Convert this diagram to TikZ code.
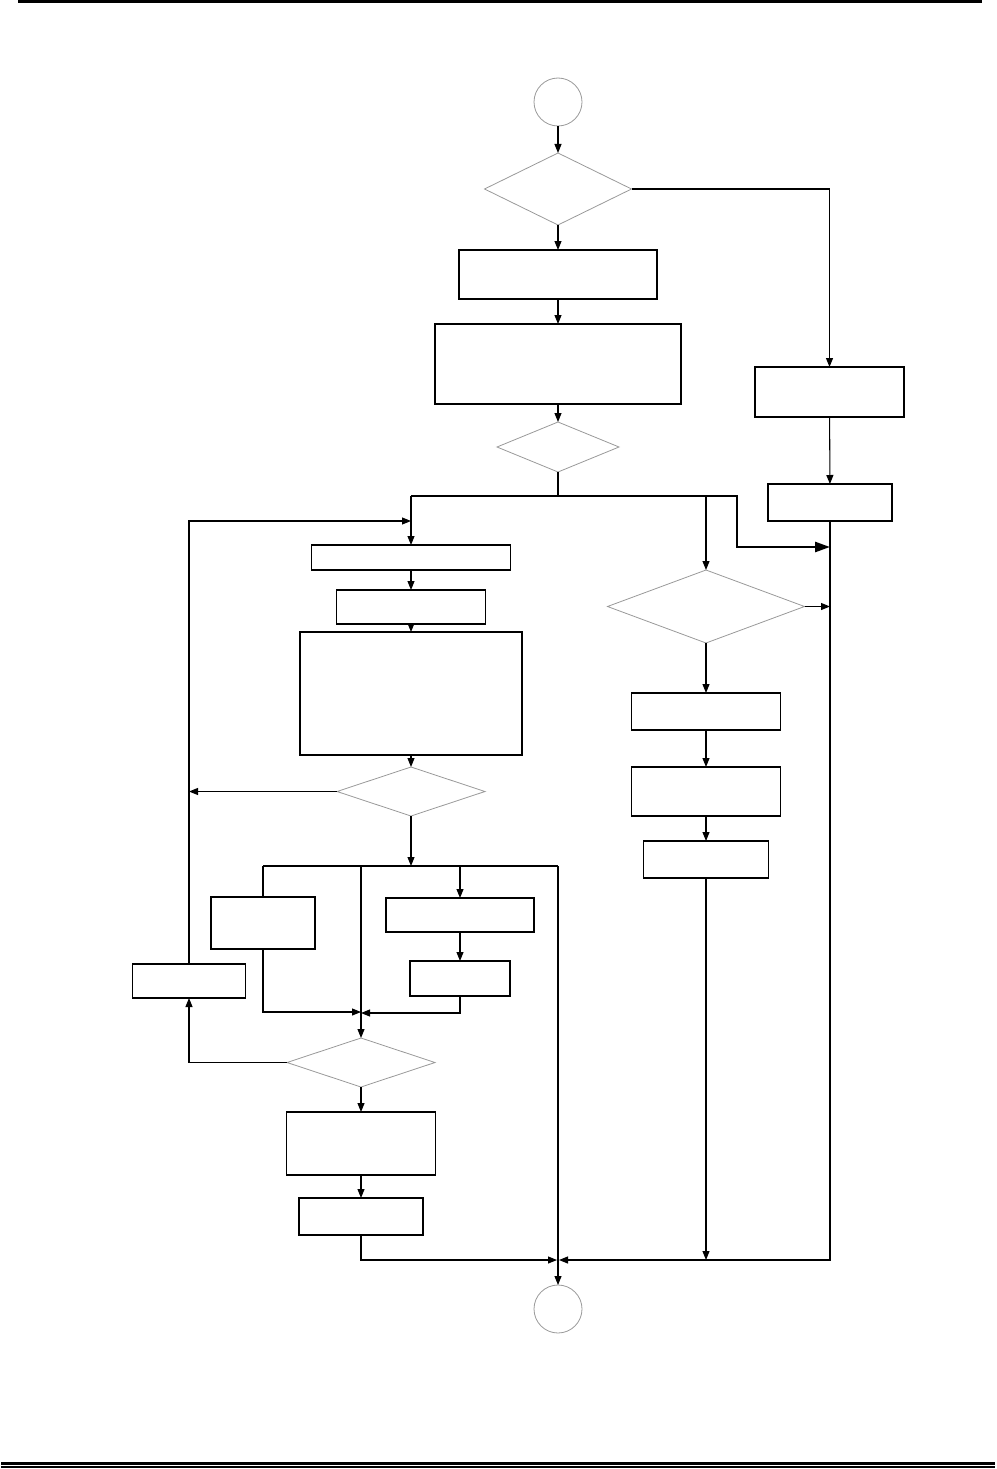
\documentclass[tikz,border=0pt]{standalone}
\usetikzlibrary{arrows.meta,shapes.geometric}
\begin{document}
\begin{tikzpicture}[x=1pt,y=-1pt,
  box/.style={draw=black,line width=1.1pt,rectangle,inner sep=0pt,outer sep=0pt},
  dia/.style={draw=black!40,line width=0.8pt,diamond,inner sep=0pt,outer sep=0pt,aspect=2},
  term/.style={draw=black!40,line width=0.8pt,circle,inner sep=0pt,outer sep=0pt,minimum size=48pt},
  ln/.style={line width=1.05pt},
  arr/.style={line width=1.05pt,-{Triangle[width=7pt,length=9pt]}},
  thickarr/.style={line width=2.6pt,-{Triangle[width=10pt,length=15pt]}}]
\useasboundingbox (0,0) rectangle (996,1469);
% page rules
\fill[black] (18,0) rectangle (982,3);
\fill[black] (1,1462) rectangle (995,1464.5);
\fill[black] (1,1466) rectangle (995,1467.5);
% nodes
\node[term] (start) at (558,102) {};
\node[dia,minimum width=147pt,minimum height=72pt] (d1) at (558,189) {};
\node[box,minimum width=198pt,minimum height=49pt] (A) at (558,274.5) {};
\node[box,minimum width=246pt,minimum height=80pt] (B) at (558,364) {};
\node[dia,minimum width=122pt,minimum height=50pt] (d2) at (558,447) {};
\node[box,minimum width=149pt,minimum height=50pt] (R1) at (829.5,392) {};
\node[box,minimum width=124pt,minimum height=37pt] (R2) at (830,502.5) {};
\node[box,minimum width=199pt,minimum height=25pt] (C) at (411,557.5) {};
\node[box,minimum width=149pt,minimum height=34pt] (D) at (411,607) {};
\node[box,minimum width=222pt,minimum height=123pt] (E) at (411,693.5) {};
\node[dia,minimum width=148pt,minimum height=49pt] (d4) at (411,791.5) {};
\node[box,minimum width=104pt,minimum height=52pt] (F) at (263,923) {};
\node[box,minimum width=148pt,minimum height=34pt] (G) at (460,915) {};
\node[box,minimum width=100pt,minimum height=35pt] (H) at (460,978.5) {};
\node[box,minimum width=113pt,minimum height=34pt] (L) at (189,981) {};
\node[dia,minimum width=148pt,minimum height=49pt] (d5) at (361,1062.5) {};
\node[box,minimum width=149pt,minimum height=63pt] (I) at (361,1143.5) {};
\node[box,minimum width=124pt,minimum height=37pt] (J) at (361,1216.5) {};
\node[dia,minimum width=197pt,minimum height=73pt] (d3) at (706,606.5) {};
\node[box,minimum width=149pt,minimum height=37pt] (K) at (706,711.5) {};
\node[box,minimum width=149pt,minimum height=49pt] (L2) at (706,791.5) {};
\node[box,minimum width=125pt,minimum height=37pt] (M) at (706,859.5) {};
\node[term] (end) at (558,1309) {};
% junction coordinates
\coordinate (j1) at (558,496);
\coordinate (jA) at (411,496);
\coordinate (jB) at (706,496);
\coordinate (jC) at (737,496);
\coordinate (jD) at (737,547);
\coordinate (rv1) at (830,547);
\coordinate (rv2) at (830,606.5);
\coordinate (lp) at (411,521);
\coordinate (lc) at (189,521);
\coordinate (lr) at (189,791.5);
\coordinate (k0) at (411,866);
\coordinate (kF) at (263,866);
\coordinate (k1) at (361,866);
\coordinate (kG) at (460,866);
\coordinate (k2) at (558,866);
\coordinate (fb) at (263,1012);
\coordinate (ml) at (361,1012);
\coordinate (hb) at (460,1013);
\coordinate (mr) at (361,1013);
\coordinate (lb) at (189,1062.5);
\coordinate (jb) at (361,1260);
\coordinate (bl) at (557,1260);
\coordinate (rb) at (830,1260);
\coordinate (br) at (559,1260);
\coordinate (mb) at (706,1260);
% main column
\draw[arr] (start) -- (d1);
\draw[arr] (d1) -- (A);
\draw[arr] (A) -- (B);
\draw[arr] (B) -- (d2);
\draw[arr] (d1.east) -| (R1.north);
\draw[arr] (R1) -- (R2);
\draw[ln] (d2.south) -- (j1);
\draw[ln] (jA) -- (jB);
\draw[thickarr] (jB) -- (jC) -- (jD) -- (rv1);
% left loop
\draw[arr] (jA) -- (C);
\draw[arr] (L.north) -- (lc) -- (lp);
\draw[arr] (C) -- (D);
\draw[arr] (D) -- (E);
\draw[arr] (E) -- (d4);
\draw[arr] (d4.west) -- (lr);
\draw[arr] (d4.south) -- (k0);
\draw[ln] (kF) -- (k2);
\draw[ln] (kF) -- (F.north);
\draw[arr] (F.south) -- (fb) -- (ml);
\draw[arr] (k1) -- (d5.north);
\draw[arr] (kG) -- (G.north);
\draw[arr] (G) -- (H);
\draw[arr] (H.south) -- (hb) -- (mr);
\draw[arr] (k2) -- (end.north);
\draw[arr] (d5.west) -- (lb) -- (L.south);
\draw[arr] (d5) -- (I);
\draw[arr] (I) -- (J);
\draw[arr] (J.south) -- (jb) -- (bl);
% right column
\draw[arr] (jB) -- (d3.north);
\draw[arr] (d3.east) -- (rv2);
\draw[arr] (d3) -- (K);
\draw[arr] (K) -- (L2);
\draw[arr] (L2) -- (M);
\draw[arr] (M.south) -- (mb);
\draw[arr] (R2.south) -- (rb) -- (br);
\end{tikzpicture}
\end{document}
